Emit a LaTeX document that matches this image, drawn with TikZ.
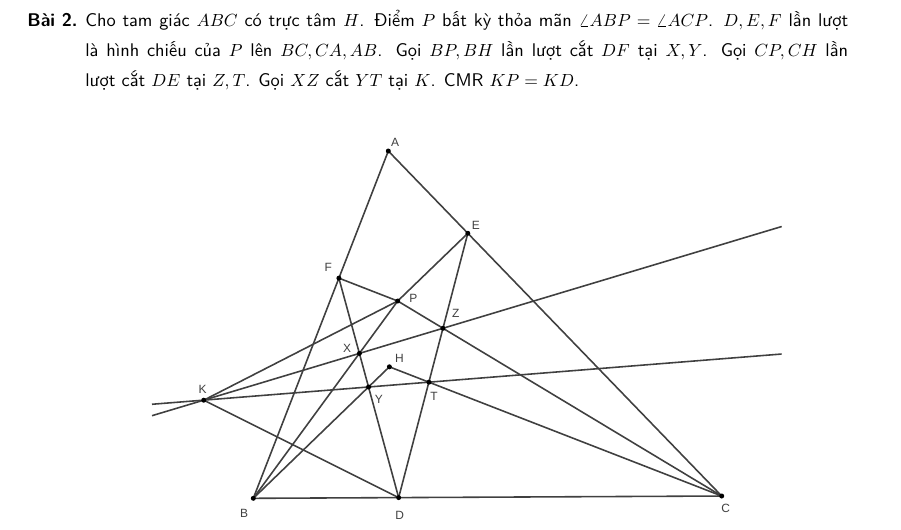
\documentclass[tikz,border=0pt]{standalone}
\usepackage{fontspec}
\usepackage{amsmath}
\newfontfamily\ggbfont{Liberation Sans}
\usetikzlibrary{calc}
\definecolor{ink}{RGB}{64,64,64}
\tikzset{seg/.style={draw=ink,line width=0.9pt},
         dot/.style={fill=black},
         lbl/.style={font=\ggbfont\fontsize{6.8}{8}\selectfont,text=ink,inner sep=0pt},
         task/.style={font=\sffamily\fontsize{10.45}{16.9}\selectfont,inner sep=0pt,anchor=base west},
        }

\begin{document}
\begin{tikzpicture}[x=0.02cm,y=-0.02cm]
        \useasboundingbox(0,0)rectangle(901,529);

        \node[task](bai)at(27,26.7){\bfseries Bài 2.};
        \node[task,text width=15.26cm,align=justify](de)at(85,26.7){Cho tam giác $ABC$ có trực tâm $H$. Điểm $P$ bất kỳ thỏa mãn $\angle ABP=\angle ACP$. $D,E,F$ lần lượt\linebreak là hình chiếu của $P$ lên $BC,CA,AB$. Gọi $BP,BH$ lần lượt cắt $DF$ tại $X,Y$. Gọi $CP,CH$ lần\linebreak lượt cắt $DE$ tại $Z,T$. Gọi $XZ$ cắt $YT$ tại $K$. CMR $KP=KD$.};

        \coordinate(A)at(388.3,151);
        \coordinate(B)at(253.3,498.3);
        \coordinate(C)at(721.7,496);
        \coordinate(P)at(397.7,301);

        \coordinate(D)at($(B)!(P)!(C)$);
        \coordinate(E)at($(C)!(P)!(A)$);
        \coordinate(F)at($(A)!(P)!(B)$);
        \coordinate(Hb)at($(C)!(B)!(A)$);
        \coordinate(Hc)at($(A)!(C)!(B)$);
        \coordinate(H)at(intersection of B--Hb and C--Hc);

        \coordinate(X)at(intersection of B--P and D--F);
        \coordinate(Y)at(intersection of B--H and D--F);
        \coordinate(Z)at(intersection of C--P and D--E);
        \coordinate(T)at(intersection of C--H and D--E);
        \coordinate(K)at(intersection of X--Z and Y--T);

        \coordinate(L1)at(152,0);
        \coordinate(L2)at(152,600);
        \coordinate(R1)at(781.7,0);
        \coordinate(R2)at(781.7,600);
        \coordinate(xzL)at(intersection of X--Z and L1--L2);
        \coordinate(xzR)at(intersection of X--Z and R1--R2);
        \coordinate(ytL)at(intersection of Y--T and L1--L2);
        \coordinate(ytR)at(intersection of Y--T and R1--R2);

        \draw[seg](A)--(B)--(C)--cycle;
        \draw[seg](D)--(E);
        \draw[seg](D)--(F);
        \draw[seg](P)--(E);
        \draw[seg](P)--(F);
        \draw[seg](B)--(P);
        \draw[seg](C)--(P);
        \draw[seg](B)--(H);
        \draw[seg](C)--(H);
        \draw[seg](K)--(P);
        \draw[seg](K)--(D);
        \draw[seg](xzL)--(xzR);
        \draw[seg](ytL)--(ytR);

        \foreach \p in {A,B,C,D,E,F,P,H,X,Y,Z,T,K}
            \fill[dot](\p)circle(0.05cm);

        \foreach \p/\dx/\dy in {A/6.7/-8.3,E/8/-8.3,F/-10.7/-10.5,P/15.6/-2.7,Z/12.8/-14.6,X/-12.3/-5,H/10/-8.7,Y/10.2/12.6,T/5.2/14,K/-1/-10.7,B/-9.3/15,D/1/17.3,C/4/12.3}
            \node[lbl](l\p)at($(\p)+(\dx,\dy)$){\p};
    \end{tikzpicture}
\end{document}
